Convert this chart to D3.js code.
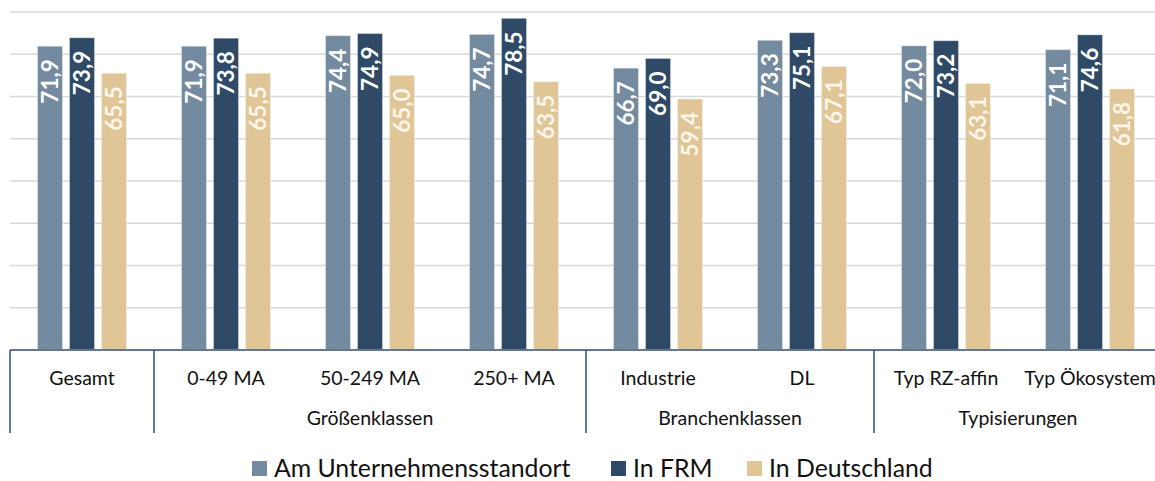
<!DOCTYPE html>
<html>
<head>
<meta charset="utf-8">
<script src="https://cdn.jsdelivr.net/npm/d3@7"></script>
<style>
  html, body { margin: 0; padding: 0; background: #fff; }
  svg { display: block; font-family: Lato, "Open Sans", sans-serif; }
</style>
</head>
<body>
<svg id="chart" width="1155" height="481"></svg>
<script>
// Categories (first axis level) and their groups (second axis level)
const categories = ["Gesamt", "0-49 MA", "50-249 MA", "250+ MA", "Industrie", "DL", "Typ RZ-affin", "Typ Ökosystem"];
const groups = [
  { name: "", from: 0, to: 0 },
  { name: "Größenklassen", from: 1, to: 3 },
  { name: "Branchenklassen", from: 4, to: 5 },
  { name: "Typisierungen", from: 6, to: 7 }
];

const seriesNames = ["Am Unternehmensstandort", "In FRM", "In Deutschland"];
const amStandort   = [71.9, 71.9, 74.4, 74.7, 66.7, 73.3, 72.0, 71.1];
const inFRM        = [73.9, 73.8, 74.9, 78.5, 69.0, 75.1, 73.2, 74.6];
const inDeutschland = [65.5, 65.5, 65.0, 63.5, 59.4, 67.1, 63.1, 61.8];
const seriesValues = [amStandort, inFRM, inDeutschland];

const yTicks = [0, 10, 20, 30, 40, 50, 60, 70, 80];

const colors = ["#748a9e", "#2e4a66", "#e0c596"];
const labelColors = ["#ffffff", "#ffffff", "#fbf5ea"];

const svg = d3.select("#chart");

const plotTop = 12, plotBottom = 350, plotLeft = 10;
const bandW = 144;

const x = d3.scaleBand()
  .domain(categories)
  .range([plotLeft, plotLeft + bandW * categories.length])
  .paddingInner(0).paddingOuter(0);

const xs = d3.scaleBand()
  .domain(seriesNames)
  .range([0, 89])
  .paddingInner(7 / 32).paddingOuter(0);

const y = d3.scaleLinear().domain([0, 80]).range([plotBottom, plotTop]);

// Horizontal gridlines
svg.append("g")
  .selectAll("line")
  .data(yTicks.filter(t => t > 0))
  .join("line")
  .attr("x1", plotLeft).attr("x2", 1155)
  .attr("y1", d => y(d)).attr("y2", d => y(d))
  .attr("stroke", "#d9d9d9")
  .attr("stroke-width", 1.5);

// Bars
const rows = [];
categories.forEach((c, i) => {
  seriesNames.forEach((s, j) => rows.push({ cat: c, series: s, j, value: seriesValues[j][i] }));
});

const inset = (bandW - 89) / 2;
const barG = svg.append("g");
barG.selectAll("rect")
  .data(rows)
  .join("rect")
  .attr("x", d => x(d.cat) + inset + xs(d.series))
  .attr("y", d => y(d.value))
  .attr("width", xs.bandwidth())
  .attr("height", d => y(0) - y(d.value))
  .attr("fill", d => colors[d.j])
  .attr("stroke", "#ffffff")
  .attr("stroke-opacity", 0.35)
  .attr("stroke-width", 1);

// Value labels, rotated inside the top of each bar
const fmt = v => v.toFixed(1).replace(".", ",");
barG.selectAll("text")
  .data(rows)
  .join("text")
  .attr("transform", d => {
    const cx = x(d.cat) + inset + xs(d.series) + xs.bandwidth() / 2;
    return `translate(${cx + 8},${y(d.value) + 13}) rotate(-90)`;
  })
  .attr("text-anchor", "end")
  .attr("fill", d => labelColors[d.j])
  .attr("font-weight", 700)
  .attr("font-size", 22.5)
  .text(d => fmt(d.value));

// Axis baseline
svg.append("line")
  .attr("x1", plotLeft).attr("x2", 1155)
  .attr("y1", y(0)).attr("y2", y(0))
  .attr("stroke", "#66788c")
  .attr("stroke-width", 2);

// Group separators
const sepIdx = [0, 1, 4, 6];
svg.append("g")
  .selectAll("line")
  .data(sepIdx)
  .join("line")
  .attr("x1", d => x(categories[d])).attr("x2", d => x(categories[d]))
  .attr("y1", y(0)).attr("y2", 433)
  .attr("stroke", "#2f4d6c")
  .attr("stroke-width", 1.5);

// Category labels
svg.append("g")
  .selectAll("text")
  .data(categories)
  .join("text")
  .attr("x", d => x(d) + bandW / 2)
  .attr("y", 385)
  .attr("text-anchor", "middle")
  .attr("font-size", 19.5)
  .attr("fill", "#111")
  .text(d => d);

// Group labels
svg.append("g")
  .selectAll("text")
  .data(groups.filter(g => g.name))
  .join("text")
  .attr("x", g => (x(categories[g.from]) + x(categories[g.to]) + bandW) / 2)
  .attr("y", 425)
  .attr("text-anchor", "middle")
  .attr("font-size", 19.5)
  .attr("fill", "#111")
  .text(g => g.name);

// Legend
const legendX = [252, 611, 747];
const legend = svg.append("g");
seriesNames.forEach((s, j) => {
  legend.append("rect")
    .attr("x", legendX[j]).attr("y", 461)
    .attr("width", 15).attr("height", 15)
    .attr("fill", colors[j]);
  legend.append("text")
    .attr("x", legendX[j] + 22).attr("y", 477)
    .attr("font-size", 24.8)
    .attr("fill", "#111")
    .text(s);
});
</script>
</body>
</html>
